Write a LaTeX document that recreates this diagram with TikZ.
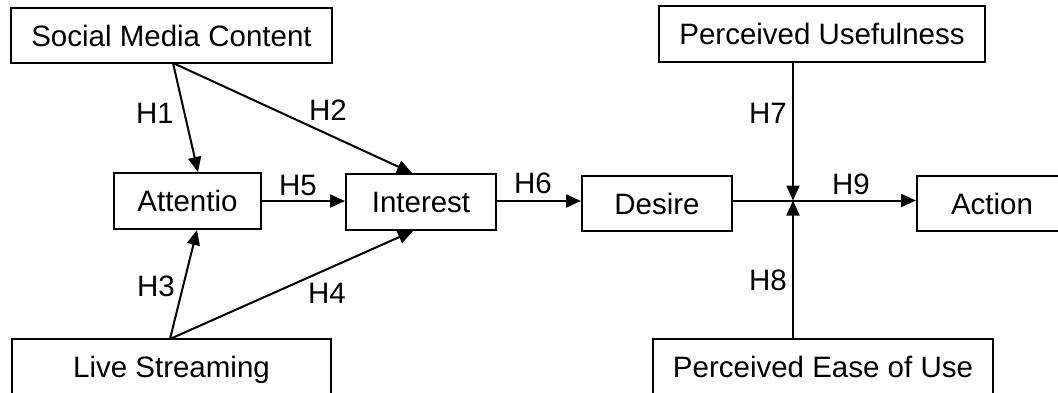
\documentclass[tikz,border=0pt]{standalone}
\usepackage{fontspec}
\setmainfont{Liberation Sans}
\usetikzlibrary{arrows.meta}
\begin{document}
\begin{tikzpicture}[x=1pt,y=-1pt,
  box/.style={draw,line width=2pt,inner sep=0pt,text height=21pt,text depth=0pt,font=\fontsize{29.5}{33}\selectfont},
  lbl/.style={font=\fontsize{29.5}{33}\selectfont,inner sep=0pt},
  arr/.style={line width=2pt,-{Triangle[length=15pt,width=13pt]}},
  ln/.style={line width=2pt}]
\useasboundingbox (0,0) rectangle (1058,392);
\clip (0,0) rectangle (1058,392);
\node[box,minimum width=321pt,minimum height=55pt] (smc) at (171.5,35.5) {Social Media Content};
\node[box,minimum width=147pt,minimum height=56pt] (att) at (187.5,201) {Attentio};
\node[box,minimum width=150pt,minimum height=56pt] (int) at (421,202) {Interest};
\node[box,minimum width=150pt,minimum height=55pt] (des) at (657,203.5) {Desire};
\node[box,minimum width=150pt,minimum height=55pt] (act) at (992,203.5) {Action};
\node[box,minimum width=326pt,minimum height=56pt] (pu) at (822,34) {Perceived Usefulness};
\node[box,minimum width=340pt,minimum height=56pt] (peu) at (823,367) {Perceived Ease of Use};
\node[box,minimum width=319pt,minimum height=56pt] (ls) at (171.5,367) {Live Streaming};
\coordinate (j) at (793,200.5);
\coordinate (smcb) at (173,63);
\coordinate (lst) at (170,339);
\draw[arr] (smcb) -- (att.north -| 198,0);
\draw[arr] (smcb) -- (int.north -| 412,0);
\draw[arr] (lst) -- (att.south -| 197,0);
\draw[arr] (lst) -- (int.south -| 413,0);
\draw[arr] (att.east |- 0,201) -- (int.west |- 0,201);
\draw[arr] (int.east |- 0,201) -- (des.west |- 0,201);
\draw[ln] (des.east |- j) -- (j);
\draw[arr] (pu.south -| j) -- (j);
\draw[arr] (peu.north -| j) -- (j);
\draw[arr] (j) -- (act.west |- j);
\node[lbl] (h1) at (155,113) {H1};
\node[lbl] (h2) at (328,110) {H2};
\node[lbl] (h3) at (156,286) {H3};
\node[lbl] (h4) at (327,293) {H4};
\node[lbl] (h5) at (298,185) {H5};
\node[lbl] (h6) at (533,183) {H6};
\node[lbl] (h7) at (768,113) {H7};
\node[lbl] (h8) at (768,280) {H8};
\node[lbl] (h9) at (851,184) {H9};
\end{tikzpicture}
\end{document}
